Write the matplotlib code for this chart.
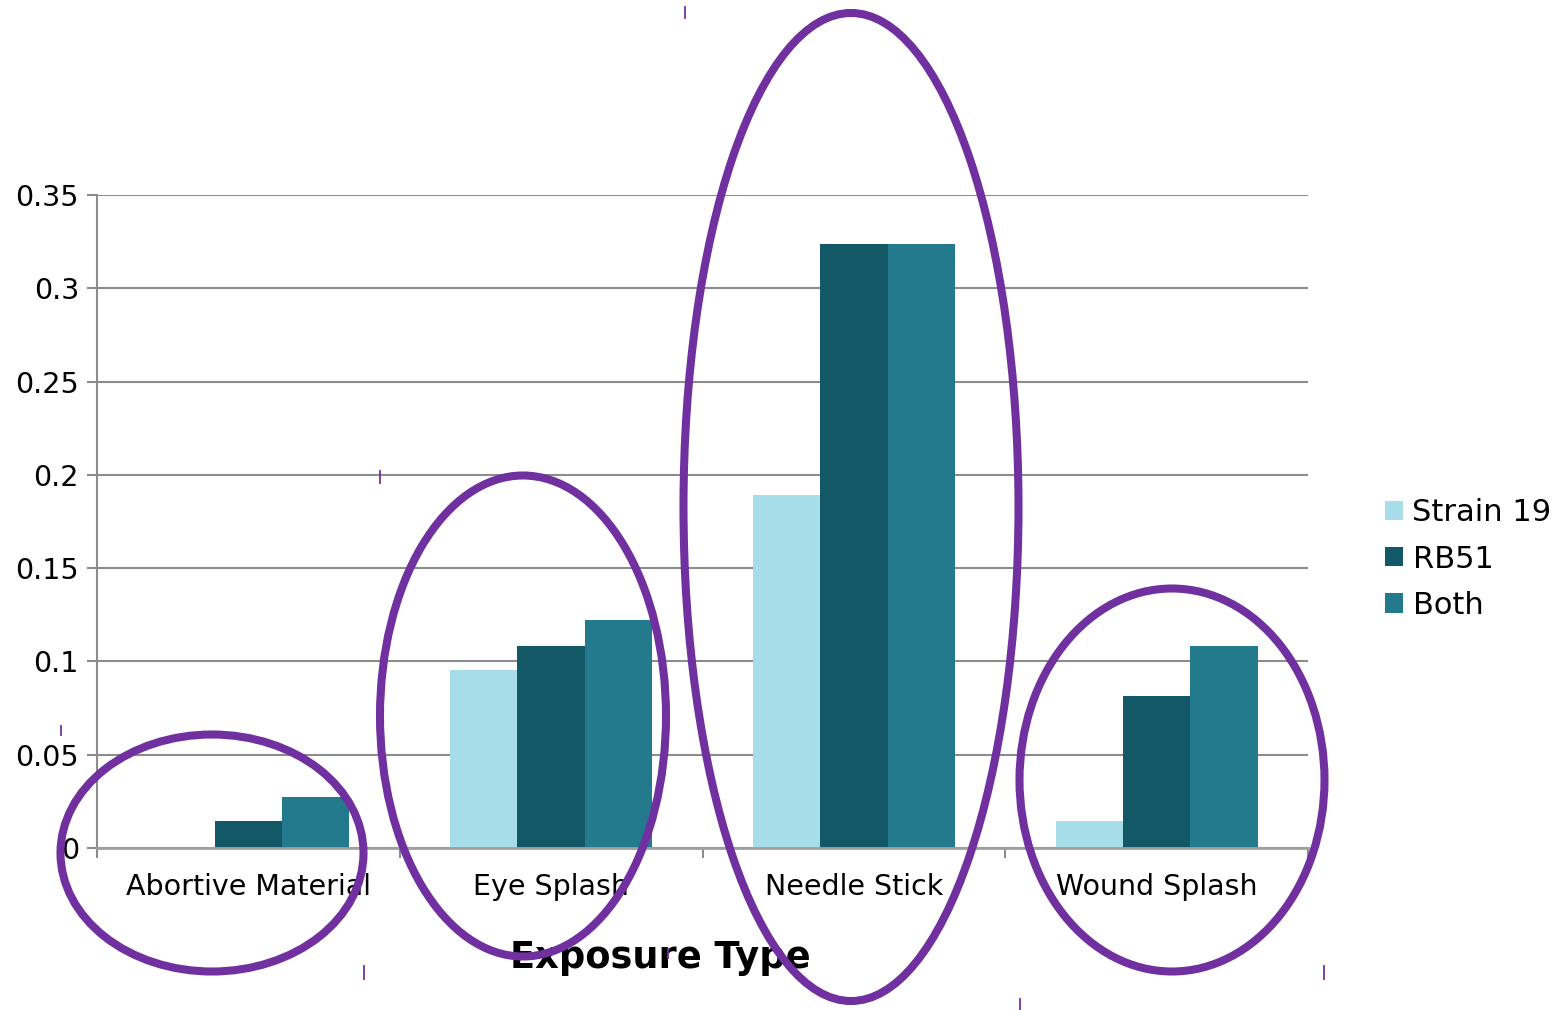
import matplotlib
matplotlib.use("Agg")
import matplotlib.pyplot as plt
import numpy as np
from matplotlib.patches import Ellipse

plt.rcParams['font.family'] = ['DejaVu Sans']

# Exposure rates by type and vaccine strain
categories = ["Abortive Material", "Eye Splash", "Needle Stick", "Wound Splash"]
strain19 = [0.0, 0.0954, 0.1892, 0.0145]
rb51 = [0.0145, 0.1083, 0.3237, 0.0815]
both = [0.0273, 0.1222, 0.3237, 0.1083]
series_names = ["Strain 19", "RB51", "Both"]
y_ticks = [0, 0.05, 0.1, 0.15, 0.2, 0.25, 0.3, 0.35]
y_tick_labels = ["0", "0.05", "0.1", "0.15", "0.2", "0.25", "0.3", "0.35"]

colors = ["#A6DDE9", "#125866", "#237A8C"]
purple = "#7030A0"
grid_gray = "#8C8C8C"

W, H = 1567, 1010
fig = plt.figure(figsize=(W / 100, H / 100), dpi=100)
fig.patch.set_facecolor("white")

# plot area in pixel coordinates
x0, x1 = 97, 1308
y0, y1 = 848, 195
ax = fig.add_axes([x0 / W, 1 - y0 / H, (x1 - x0) / W, (y0 - y1) / H])

x = np.arange(len(categories))
bw = 0.2225
for i, (vals, name) in enumerate(zip([strain19, rb51, both], series_names)):
    ax.bar(x + (i - 1) * bw, vals, width=bw, color=colors[i], label=name,
           zorder=3, linewidth=0)

ax.set_xlim(-0.5, len(categories) - 0.5)
ax.set_ylim(0, 0.35)
ax.set_yticks(y_ticks)
ax.set_yticklabels(y_tick_labels)
ax.set_xticks(x)
ax.set_xticklabels(categories)
ax.tick_params(axis="x", length=0, labelsize=20.5, pad=18)
ax.tick_params(axis="y", length=7, width=1.5, color=grid_gray, labelsize=20.5, pad=6)
ax.set_xticks(np.arange(len(categories) + 1) - 0.5, minor=True)
ax.tick_params(axis="x", which="minor", length=7, width=1.5, color=grid_gray)

ax.yaxis.grid(True, color=grid_gray, linewidth=1.5, zorder=0)
ax.set_axisbelow(True)
for s in ["top", "right"]:
    ax.spines[s].set_visible(False)
ax.spines["left"].set_color(grid_gray)
ax.spines["left"].set_linewidth(1.5)
ax.spines["bottom"].set_color("#A0A0A0")
ax.spines["bottom"].set_linewidth(2)
ax.spines["bottom"].set_zorder(4)
ax.patch.set_alpha(0)

ax.set_xlabel("Exposure Type", fontsize=26.5, fontweight="bold", color="black")
ax.xaxis.set_label_coords((660 - x0) / (x1 - x0), -(958 - y0) / (y0 - y1))
ax.xaxis.label.set_va("center")

leg = ax.legend(loc="center left", bbox_to_anchor=((1385 - x0) / (x1 - x0), (y0 - 559) / (y0 - y1)),
                frameon=False, fontsize=22, handlelength=0.6, handleheight=0.6,
                handletextpad=0.3, labelspacing=0.57, borderaxespad=0, borderpad=0)

# overlay for the hand-drawn highlight ellipses (pixel coordinates)
ov = fig.add_axes([0, 0, 1, 1])
ov.set_xlim(0, W)
ov.set_ylim(H, 0)
ov.axis("off")
ov.patch.set_alpha(0)

ellipses = [
    (212, 853, 303, 237),
    (523, 716, 286, 481),
    (851, 507, 335, 988),
    (1172, 780, 305, 383),
]
for cx, cy, ew, eh in ellipses:
    ov.add_patch(Ellipse((cx, cy), ew, eh, fill=False, edgecolor=purple, linewidth=5.8))

# selection handle marks
handles = [(380, 471, 483), (61, 726, 735), (364, 966, 979), (1020, 999, 1010),
           (1324, 966, 979), (685, 7, 18), (668, 949, 958)]
for hx, ya, yb in handles:
    ov.plot([hx, hx], [ya, yb], color=purple, linewidth=1.3)

fig.savefig("out.png", dpi=100)
